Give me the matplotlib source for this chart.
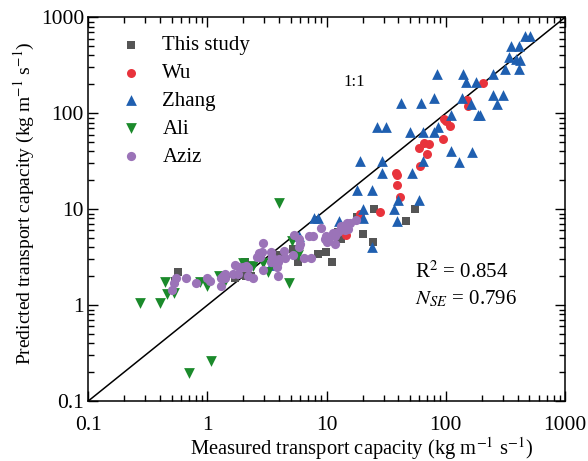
import matplotlib
matplotlib.use("Agg")
import matplotlib.pyplot as plt
from matplotlib.ticker import FixedLocator, FixedFormatter, LogLocator, NullFormatter

plt.rcParams["font.family"] = ["Liberation Serif", "DejaVu Serif"]
plt.rcParams["mathtext.fontset"] = "stix"

# Measured (x) and predicted (y) transport capacity, kg m-1 s-1
study_x = [0.57, 0.53, 1.7, 2.05, 2.1, 2.3, 4.0, 5.2, 5.7, 8.5, 9.9, 11.0, 13.2, 12.4, 18.0, 20.0, 24.5, 25.0, 46.0, 55.0]
study_y = [2.2, 1.8, 1.9, 2.8, 2.0, 2.0, 3.3, 3.8, 2.8, 3.4, 3.6, 2.8, 4.9, 5.8, 8.3, 5.5, 4.6, 10.0, 7.6, 10.0]

wu_x = [205, 150, 152, 97, 100, 108, 95, 59, 66, 72, 70, 61, 38, 39, 39, 41, 28, 19, 14.5]
wu_y = [205, 138, 120, 88, 83, 74, 54, 43, 49, 48, 38, 28, 24, 22.5, 18, 13.4, 9.4, 8.9, 5.4]

zhang_x = [460, 510, 355, 410, 340, 390, 420, 315, 410, 85, 140, 148, 180, 250,
           42, 62, 80, 137, 250, 300, 270, 163, 185, 195, 110, 26.5, 31.5, 50, 64,
           80, 86, 110, 130, 165, 19, 29, 29, 52, 64, 18, 24, 40, 59, 20, 37, 39,
           20, 7.9, 8.5, 12.6, 24, 5.9, 3.4]
zhang_y = [640, 640, 500, 500, 390, 365, 360, 290, 290, 256, 256, 213, 213, 256,
           128, 128, 143, 143, 155, 155, 125, 125, 96, 96, 96, 72, 72, 64, 64,
           64, 72, 40, 31, 39, 32, 32, 24, 24, 32, 16, 16, 12.5, 12.5, 10, 10, 7.6,
           8.1, 8.1, 8.1, 7.6, 4.0, 5.2, 2.6]

ali_x = [4.0, 4.8, 0.27, 0.40, 0.44, 0.52, 0.46, 0.86, 1.0, 1.25, 1.4, 2.0, 2.4, 2.9, 3.2, 5.1, 5.7, 1.08, 0.70]
ali_y = [11.5, 1.7, 1.05, 1.05, 1.75, 1.35, 1.3, 1.75, 1.6, 2.0, 1.8, 2.75, 2.55, 2.75, 2.2, 4.7, 3.3, 0.26, 0.195]

aziz_x = [0.50, 0.52, 0.55, 0.66, 0.80, 1.0, 1.05, 1.3, 1.3, 1.35, 1.4, 1.4, 1.65, 1.7, 1.8,
          1.85, 2.0, 2.1, 2.2, 2.2, 2.4, 2.6, 2.7, 2.75, 2.85, 2.9, 2.9, 3.4, 3.4, 3.5,
          3.8, 3.9, 3.9, 4.0, 4.4, 4.5, 5.2, 5.3, 5.9, 6.0, 5.9, 6.4, 7.1, 7.4, 7.7,
          9.0, 9.6, 9.9, 10.3, 10.1, 11.3, 11.7, 11.8, 12.4, 13.2, 13.7, 14.2, 14.7,
          15.2, 15.6, 17.7]
aziz_y = [1.45, 1.7, 1.9, 1.9, 1.7, 1.9, 1.8, 1.6, 1.9, 2.0, 2.1, 1.9, 2.1, 2.65, 2.1,
          2.5, 2.5, 2.55, 2.45, 2.0, 1.9, 3.2, 3.5, 3.2, 3.6, 4.4, 2.3, 3.6, 2.8, 3.2,
          2.5, 2.0, 2.8, 3.0, 3.7, 3.1, 3.3, 5.4, 4.9, 4.3, 4.0, 3.1, 5.2, 3.1, 5.2,
          6.3, 4.9, 5.2, 4.8, 4.6, 5.6, 5.2, 4.3, 5.8, 6.7, 6.6, 6.1, 7.1,
          6.2, 7.1, 7.7]

tick_values = [0.1, 1, 10, 100, 1000]
tick_labels = ["0.1", "1", "10", "100", "1000"]
r2_value = 0.854
nse_value = 0.796

fig = plt.figure(figsize=(5.88, 4.61), dpi=100)
ax = fig.add_axes([0.150, 0.130, 0.811, 0.8325])

ax.set_xscale("log")
ax.set_yscale("log")
ax.set_xlim(0.1, 1000)
ax.set_ylim(0.1, 1000)

# 1:1 reference line
ax.plot([0.1, 1000], [0.1, 1000], color="black", lw=1.1, zorder=1)
ax.text(17, 212, "1:1", fontsize=12, ha="center", va="center")

ax.scatter(study_x, study_y, marker="s", s=30, color="#555555", lw=0, label="This study", zorder=2)
ax.scatter(wu_x, wu_y, marker="o", s=42, color="#e8333c", lw=0, label="Wu", zorder=3)
ax.scatter(zhang_x, zhang_y, marker="^", s=60, color="#1f5fb0", lw=0, label="Zhang", zorder=3)
ax.scatter(ali_x, ali_y, marker="v", s=60, color="#1b8a2b", lw=0, label="Ali", zorder=3)
ax.scatter(aziz_x, aziz_y, marker="o", s=44, color="#9b73b8", lw=0, label="Aziz", zorder=4)

for axis in (ax.xaxis, ax.yaxis):
    axis.set_major_locator(FixedLocator(tick_values))
    axis.set_major_formatter(FixedFormatter(tick_labels))
    axis.set_minor_locator(LogLocator(base=10, subs=range(2, 10), numticks=20))
    axis.set_minor_formatter(NullFormatter())

ax.tick_params(which="both", direction="in", top=True, right=True, labelsize=15.5, width=1.0)
ax.tick_params(which="major", length=7)
ax.tick_params(which="minor", length=4)
ax.tick_params(axis="x", which="major", pad=10.5)
ax.tick_params(axis="y", which="major", pad=3)
for sp in ax.spines.values():
    sp.set_linewidth(1.1)

ax.set_xlabel("Measured transport capacity (kg m$^{-1}$ s$^{-1}$)", fontsize=14.8)
ax.set_ylabel("Predicted transport capacity (kg m$^{-1}$ s$^{-1}$)", fontsize=14)
ax.xaxis.set_label_coords(0.574, -0.09)
ax.yaxis.set_label_coords(-0.107, 0.516)

ax.text(0.685, 0.335, f"R$^2$ = {r2_value:.3f}", transform=ax.transAxes, fontsize=15, ha="left", va="center")
ax.text(0.685, 0.265, f"$N_{{SE}}$ = {nse_value:.3f}", transform=ax.transAxes, fontsize=15, ha="left", va="center")

ax.legend(loc="upper left", bbox_to_anchor=(0.02, 0.985), frameon=False, fontsize=15,
          handletextpad=0.5, labelspacing=0.4, borderaxespad=0.2, scatterpoints=1)

fig.savefig("out.png", dpi=100)
